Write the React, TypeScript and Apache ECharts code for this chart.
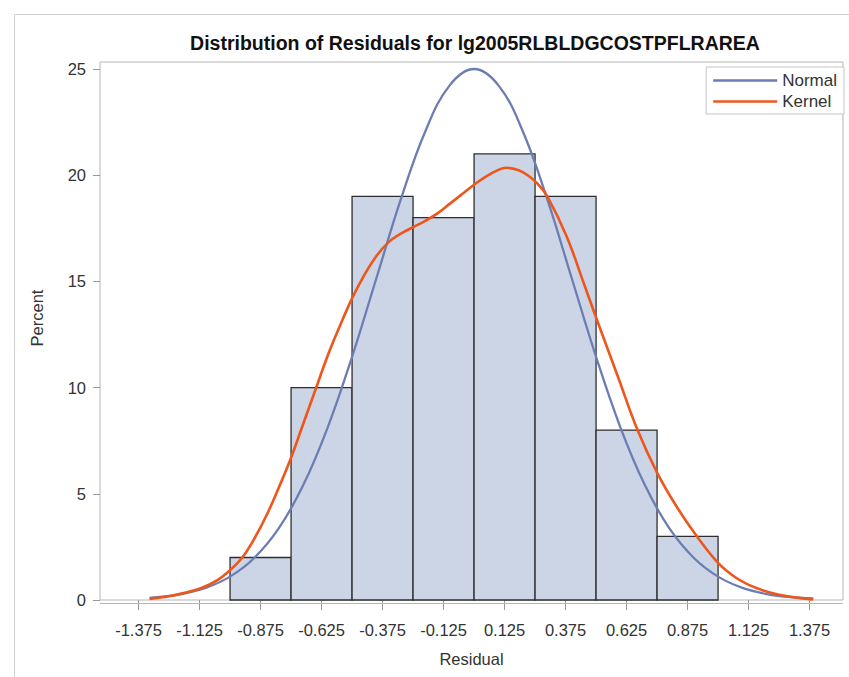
import React, { useEffect, useRef } from "react";
import * as echarts from "echarts";

const binCenters = [-0.875, -0.625, -0.375, -0.125, 0.125, 0.375, 0.625, 0.875];
const binPercents = [2, 10, 19, 18, 21, 19, 8, 3];
const binWidth = 0.25;

const xTickValues = [-1.375, -1.125, -0.875, -0.625, -0.375, -0.125, 0.125, 0.375, 0.625, 0.875, 1.125, 1.375];
const yTickValues = [0, 5, 10, 15, 20, 25];

const normalX = [-1.33, -1.3, -1.2, -1.1, -1.0, -0.9, -0.8, -0.7, -0.6, -0.5, -0.4, -0.3, -0.2, -0.1, 0.0, 0.1, 0.2, 0.3, 0.4, 0.5, 0.6, 0.7, 0.8, 0.9, 1.0, 1.1, 1.2, 1.3, 1.39];
const normalY = [0.1, 0.13, 0.28, 0.57, 1.1, 1.99, 3.38, 5.41, 8.12, 11.45, 15.16, 18.87, 22.06, 24.23, 25.0, 24.23, 22.06, 18.87, 15.16, 11.45, 8.12, 5.41, 3.38, 1.99, 1.1, 0.57, 0.28, 0.13, 0.08];

const kernelX = [-1.33, -1.25, -1.2, -1.12, -1.05, -1.0, -0.95, -0.9, -0.85, -0.8, -0.75, -0.7, -0.65, -0.6, -0.55, -0.5, -0.45, -0.4, -0.35, -0.3, -0.25, -0.2, -0.15, -0.1, -0.05, 0.0, 0.05, 0.1, 0.13, 0.18, 0.22, 0.26, 0.3, 0.38, 0.45, 0.5, 0.59, 0.67, 0.75, 0.83, 0.91, 1.0, 1.08, 1.16, 1.25, 1.39];
const kernelY = [0.05, 0.18, 0.3, 0.55, 0.95, 1.4, 2.0, 2.9, 4.0, 5.3, 6.7, 8.3, 9.9, 11.5, 12.9, 14.2, 15.3, 16.2, 16.85, 17.25, 17.55, 17.85, 18.2, 18.65, 19.1, 19.55, 19.95, 20.25, 20.35, 20.25, 20.0, 19.6, 19.0, 17.1, 14.9, 13.3, 10.5, 8.0, 6.0, 4.4, 3.05, 1.75, 1.0, 0.55, 0.25, 0.03];

const FONT = "'Liberation Sans', Arial, sans-serif";

export default function App() {
  const ref = useRef<HTMLDivElement>(null);
  useEffect(() => {
    if (!ref.current) return;
    const chart = echarts.init(ref.current, null, { renderer: "svg" });
    const histData = binCenters.map((c, i) => [c, binPercents[i]]);
    chart.setOption({
      animation: false,
      backgroundColor: "#ffffff",
      textStyle: { fontFamily: FONT },
      title: {
        text: "Distribution of Residuals for lg2005RLBLDGCOSTPFLRAREA",
        left: 470,
        textAlign: "center",
        top: 28,
        textStyle: { fontFamily: FONT, fontSize: 19.5, fontWeight: "bold", color: "#111" },
      },
      legend: {
        data: ["Normal", "Kernel"],
        orient: "vertical",
        right: 5,
        top: 67,
        icon: "rect",
        itemWidth: 64,
        itemHeight: 2.5,
        itemGap: 4,
        padding: [5, 7, 4, 7],
        borderColor: "#c4c4c4",
        borderWidth: 1,
        backgroundColor: "#fff",
        textStyle: { fontFamily: FONT, fontSize: 17, color: "#333", lineHeight: 17 },
      },
      grid: { left: 100, right: 6, top: 62, bottom: 77, show: true, borderColor: "#b5b5b5", borderWidth: 1, backgroundColor: "transparent", outerBoundsMode: "none" },
      xAxis: {
        type: "value",
        min: -1.533,
        max: 1.512,
        name: "Residual",
        nameLocation: "middle",
        nameGap: 50,
        nameTextStyle: { fontFamily: FONT, fontSize: 16.5, color: "#333" },
        axisLine: { show: false, onZero: false },
        splitLine: { show: false },
        axisTick: { show: true, length: 10, customValues: xTickValues, lineStyle: { color: "#999" } },
        axisLabel: { customValues: xTickValues, formatter: (v: number) => v.toFixed(3), fontFamily: FONT, fontSize: 16.5, color: "#333", margin: 21 },
      },
      yAxis: {
        type: "value",
        min: 0,
        max: 25.33,
        interval: 5,
        axisLine: { show: false, onZero: false },
        splitLine: { show: false },
        axisTick: { show: true, length: 7, lineStyle: { color: "#999" } },
        axisLabel: {
          showMaxLabel: false,
          formatter: (v: number) => (yTickValues.indexOf(v) >= 0 ? String(v) : ""),
          fontFamily: FONT,
          fontSize: 16.5,
          color: "#333",
          margin: 14,
        },
      },
      graphic: [
        { type: "rect", silent: true, z: -10, shape: { x: 14.5, y: 14.5, width: 900, height: 700 }, style: { fill: "none", stroke: "#cfcfcf", lineWidth: 1 } },
        { type: "line", silent: true, z: 1, shape: { x1: 100, y1: 603.5, x2: 843, y2: 603.5 }, style: { stroke: "#b5b5b5", lineWidth: 1 } },
        {
          type: "text",
          silent: true,
          x: 37,
          y: 318,
          rotation: Math.PI / 2,
          style: { text: "Percent", fontFamily: FONT, fontSize: 16.5, fill: "#333", align: "center", verticalAlign: "middle" },
        },
      ],
      series: [
        {
          type: "custom",
          name: "Histogram",
          z: 2,
          data: histData,
          renderItem: (params: any, api: any) => {
            const c = api.value(0);
            const v = api.value(1);
            const p1 = api.coord([c - binWidth / 2, v]);
            const p2 = api.coord([c + binWidth / 2, 0]);
            return {
              type: "rect",
              shape: { x: p1[0], y: p1[1], width: p2[0] - p1[0], height: p2[1] - p1[1] },
              style: { fill: "#cbd5e6", stroke: "#2e2e2e", lineWidth: 1.3 },
            };
          },
        },
        {
          type: "line",
          name: "Normal",
          z: 3,
          data: normalX.map((x, i) => [x, normalY[i]]),
          smooth: 0.4,
          showSymbol: false,
          symbol: "none",
          color: "#6c7db3",
          lineStyle: { width: 2.3, color: "#6c7db3" },
        },
        {
          type: "line",
          name: "Kernel",
          z: 4,
          data: kernelX.map((x, i) => [x, kernelY[i]]),
          smooth: 0.4,
          showSymbol: false,
          symbol: "none",
          color: "#ee561c",
          lineStyle: { width: 2.6, color: "#ee561c" },
        },
      ],
    });
    return () => chart.dispose();
  }, []);
  return <div ref={ref} style={{ position: "fixed", left: 0, top: 0, width: 849, height: 677 }} />;
}
